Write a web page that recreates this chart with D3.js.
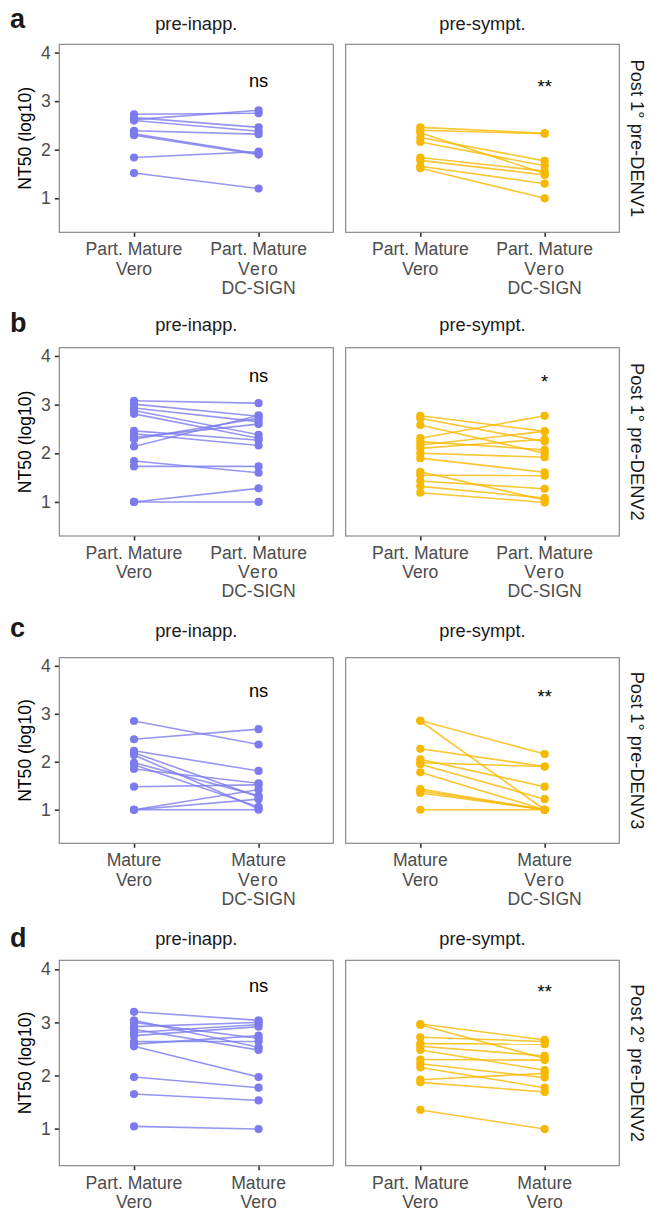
<!DOCTYPE html>
<html><head><meta charset="utf-8">
<script src="https://cdn.jsdelivr.net/npm/d3@7"></script>
<style>body{margin:0;background:#fff}svg{display:block}text{font-family:"Liberation Sans",Arial,sans-serif}</style>
</head><body>
<svg id="chart" width="650" height="1209"></svg>
<script>
// ---------- data ----------
const panelTags = ["a", "b", "c", "d"];
const groups = ["pre-inapp.", "pre-sympt."];
const rowLabels = ["Post 1\u00b0 pre-DENV1", "Post 1\u00b0 pre-DENV2", "Post 1\u00b0 pre-DENV3", "Post 2\u00b0 pre-DENV2"];
const xCatsA = [["Part. Mature", "Vero"], ["Part. Mature", "Vero", "DC-SIGN"]];
const xCatsB = [["Part. Mature", "Vero"], ["Part. Mature", "Vero", "DC-SIGN"]];
const xCatsC = [["Mature", "Vero"], ["Mature", "Vero", "DC-SIGN"]];
const xCatsD = [["Part. Mature", "Vero"], ["Mature", "Vero"]];
const sigInapp = ["ns", "ns", "ns", "ns"];
const sigSympt = ["**", "*", "**", "**"];
const sigY = [3.39, 3.56, 3.45, 3.67];
const yTicks = [1, 2, 3, 4];
const yDomain = [0.3, 4.17];

// paired NT50 (log10) values: first condition, second condition
const aInappFirst  = [2.73, 2.62, 2.66, 2.60, 2.39, 2.33, 2.30, 1.84, 1.52];
const aInappSecond = [2.75, 2.81, 2.46, 2.38, 2.32, 1.92, 1.90, 1.96, 1.20];
const aSymptFirst  = [2.46, 2.40, 2.35, 2.25, 2.16, 1.84, 1.78, 1.66, 1.62];
const aSymptSecond = [2.34, 2.33, 1.51, 1.77, 1.67, 1.56, 1.48, 1.30, 1.00];

const bInappFirst  = [3.08, 3.01, 2.93, 2.88, 2.81, 2.46, 2.40, 2.33, 2.29, 2.14, 1.84, 1.73, 1.00, 1.00];
const bInappSecond = [3.03, 2.76, 2.65, 2.38, 2.31, 2.27, 2.16, 2.60, 2.72, 2.78, 1.60, 1.73, 1.28, 1.00];
const bSymptFirst  = [2.77, 2.72, 2.58, 2.31, 2.24, 2.17, 2.10, 2.00, 1.90, 1.62, 1.55, 1.43, 1.32, 1.19];
const bSymptSecond = [2.45, 2.24, 2.00, 2.77, 2.07, 2.45, 2.29, 1.92, 1.61, 1.04, 1.54, 1.27, 1.08, 0.99];

const cInappFirst  = [2.85, 2.47, 2.23, 2.19, 2.14, 1.98, 1.94, 1.85, 1.48, 1.00, 1.00, 1.00];
const cInappSecond = [2.36, 2.68, 1.81, 1.27, 1.02, 1.29, 1.06, 1.55, 1.52, 1.42, 1.22, 1.00];
const cSymptFirst  = [2.86, 2.85, 2.27, 2.05, 1.98, 1.95, 1.78, 1.43, 1.39, 1.35, 1.00];
const cSymptSecond = [2.16, 1.00, 1.90, 1.48, 1.90, 1.22, 1.00, 1.00, 1.00, 1.00, 1.00];

const dInappFirst  = [3.20, 3.04, 3.00, 2.92, 2.87, 2.81, 2.75, 2.64, 2.59, 2.55, 1.97, 1.65, 1.04];
const dInappSecond = [3.04, 2.53, 2.70, 3.00, 2.48, 2.96, 2.92, 2.64, 2.75, 1.97, 1.77, 1.53, 0.99];
const dSymptFirst  = [2.97, 2.95, 2.72, 2.60, 2.55, 2.48, 2.30, 2.22, 2.15, 1.92, 1.87, 1.35];
const dSymptSecond = [2.67, 2.32, 2.64, 2.59, 2.37, 2.10, 2.29, 1.96, 1.77, 2.04, 1.69, 0.99];

const colors = ["#7b7bef", "#f7b801"];

const rowsData = [
  {cats: xCatsA, panels: [[aInappFirst, aInappSecond], [aSymptFirst, aSymptSecond]]},
  {cats: xCatsB, panels: [[bInappFirst, bInappSecond], [bSymptFirst, bSymptSecond]]},
  {cats: xCatsC, panels: [[cInappFirst, cInappSecond], [cSymptFirst, cSymptSecond]]},
  {cats: xCatsD, panels: [[dInappFirst, dInappSecond], [dSymptFirst, dSymptSecond]]}
];

// ---------- layout ----------
const rowGeom = [
  {top: 44.3, bottom: 232.3, strip: 29.5, tag: 28.3},
  {top: 347.7, bottom: 536.0, strip: 331.2, tag: 331.7},
  {top: 657.7, bottom: 843.3, strip: 637.0, tag: 636.7},
  {top: 960.3, bottom: 1165.7, strip: 944.5, tag: 946.7}
];
const panelX = [[59.3, 333.3], [345.7, 619.3]];

const svg = d3.select("#chart");
const fs = 17.6;

rowsData.forEach((row, ri) => {
  const g = rowGeom[ri];
  const y = d3.scaleLinear().domain(yDomain).range([g.bottom, g.top]);

  svg.append("text").attr("x", 10).attr("y", g.tag).attr("font-size", 27).attr("font-weight", "bold")
    .attr("fill", "#1a1a1a").text(panelTags[ri]);

  const yc = (g.top + g.bottom) / 2;
  svg.append("text").attr("transform", `translate(31,${yc}) rotate(-90)`).attr("text-anchor", "middle")
    .attr("font-size", fs).attr("fill", "#000").text("NT50 (log10)");

  svg.append("text").attr("transform", `translate(631,${yc}) rotate(90)`).attr("text-anchor", "middle")
    .attr("font-size", 18.3).attr("fill", "#1a1a1a").text(rowLabels[ri]);

  row.panels.forEach((pd, pi) => {
    const [x0, x1] = panelX[pi];
    const x = d3.scalePoint().domain([0, 1]).range([x0, x1]).padding(0.6);
    const pg = svg.append("g");

    pg.append("text").attr("x", (x0 + x1) / 2).attr("y", g.strip).attr("text-anchor", "middle")
      .attr("font-size", 18.3).attr("fill", "#1a1a1a").text(groups[pi]);

    if (pi === 0) {
      const ax = pg.append("g").attr("transform", `translate(${x0},0)`)
        .call(d3.axisLeft(y).tickValues(yTicks).tickSize(4.5).tickPadding(4).tickFormat(d3.format("d")));
      ax.select(".domain").remove();
      ax.selectAll(".tick line").attr("stroke", "#333").attr("stroke-width", 1.6);
      ax.selectAll(".tick text").attr("font-size", fs).attr("fill", "#4d4d4d")
        .attr("font-family", '"Liberation Sans",Arial,sans-serif');
    }

    const xa = pg.append("g").attr("transform", `translate(0,${g.bottom})`)
      .call(d3.axisBottom(x).tickSize(4.5).tickFormat(""));
    xa.select(".domain").remove();
    xa.selectAll(".tick line").attr("stroke", "#333").attr("stroke-width", 1.6);
    [0, 1].forEach(ci => {
      const lines = row.cats[ci];
      const t = pg.append("text").attr("text-anchor", "middle").attr("font-size", fs).attr("fill", "#4d4d4d");
      lines.forEach((ln, li) => {
        const ts = t.append("tspan").attr("x", x(ci)).attr("y", g.bottom + 23 + li * 19.2).text(ln);
        if (lines.length === 3 && li === 1) ts.attr("letter-spacing", 1.2);
      });
    });

    const [first, second] = pd;
    const pairs = first.map((v, i) => [v, second[i]]);
    pg.selectAll("line.pair").data(pairs).join("line").attr("class", "pair")
      .attr("x1", x(0)).attr("x2", x(1))
      .attr("y1", d => y(d[0])).attr("y2", d => y(d[1]))
      .attr("stroke", colors[pi]).attr("stroke-width", 1.6).attr("stroke-opacity", 0.8);
    const pts = [];
    pairs.forEach(d => { pts.push([0, d[0]]); pts.push([1, d[1]]); });
    pg.selectAll("circle").data(pts).join("circle")
      .attr("cx", d => x(d[0])).attr("cy", d => y(d[1])).attr("r", 4.1).attr("fill", colors[pi]);

    pg.append("rect").attr("x", x0).attr("y", g.top).attr("width", x1 - x0).attr("height", g.bottom - g.top)
      .attr("fill", "none").attr("stroke", "#7f7f7f").attr("stroke-width", 1.1);

    const lab = pi === 0 ? sigInapp[ri] : sigSympt[ri];
    const cy = y(sigY[ri]);
    const isStar = lab.indexOf("*") >= 0;
    pg.append("text").attr("x", x(1)).attr("y", isStar ? cy + 10.8 : cy + 4.8).attr("text-anchor", "middle")
      .attr("font-size", 18.3).attr("fill", "#000").text(lab);
  });
});
</script>
</body></html>
